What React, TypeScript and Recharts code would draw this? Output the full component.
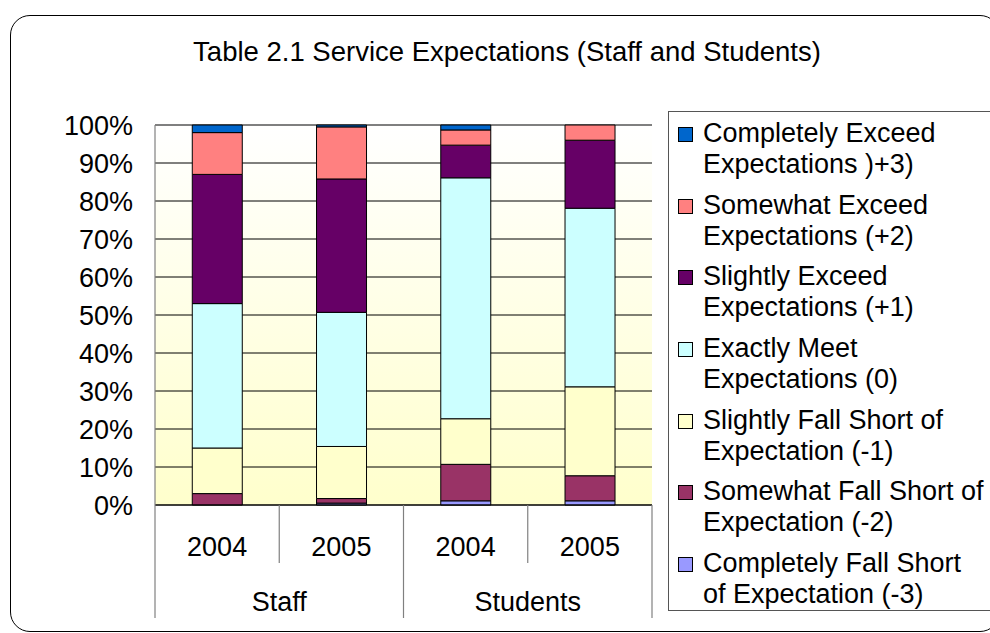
import React from 'react';
import { BarChart, Bar, XAxis, YAxis, CartesianGrid } from 'recharts';

const TITLE = 'Table 2.1 Service Expectations (Staff and Students)';
const categories = ['2004', '2005', '2004', '2005'];
const groupOfCategory = ['Staff', 'Staff', 'Students', 'Students'];
const yTicks = [0, 10, 20, 30, 40, 50, 60, 70, 80, 90, 100];

// bottom to top of each stack
const completelyFallShort = [0, 0.5, 1.1, 1.1];
const somewhatFallShort = [3, 1.2, 9.6, 6.6];
const slightlyFallShort = [12, 13.7, 12, 23.4];
const exactlyMeet = [38, 35.3, 63.4, 47];
const slightlyExceed = [34, 35.1, 8.6, 17.9];
const somewhatExceed = [11, 13.7, 4, 4];
const completelyExceed = [2, 0.5, 1.3, 0];

const series = [
  { key: 'cfs', values: completelyFallShort, color: '#9999FF', label: ['Completely Fall Short', 'of Expectation (-3)'] },
  { key: 'sfs', values: somewhatFallShort, color: '#993366', label: ['Somewhat Fall Short of', 'Expectation (-2)'] },
  { key: 'slfs', values: slightlyFallShort, color: '#FFFFCC', label: ['Slightly Fall Short of', 'Expectation (-1)'] },
  { key: 'em', values: exactlyMeet, color: '#CCFFFF', label: ['Exactly Meet', 'Expectations (0)'] },
  { key: 'sle', values: slightlyExceed, color: '#660066', label: ['Slightly Exceed', 'Expectations (+1)'] },
  { key: 'swe', values: somewhatExceed, color: '#FF8080', label: ['Somewhat Exceed', 'Expectations (+2)'] },
  { key: 'ce', values: completelyExceed, color: '#0066CC', label: ['Completely Exceed', 'Expectations )+3)'] },
];

const data = categories.map((c, i) => {
  const row: Record<string, any> = { name: c, group: groupOfCategory[i] };
  series.forEach((s) => { row[s.key] = s.values[i]; });
  return row;
});

const FONT = '"Liberation Sans", Arial, sans-serif';
const W = 990;
const H = 633;
const MARGIN = { top: 125, right: 338, bottom: 15, left: 0 };
const Y_AXIS_W = 155;
const PLOT_W = W - MARGIN.right - MARGIN.left - Y_AXIS_W;
const HALF_BAND = PLOT_W / categories.length / 2;

function CategoryTick(props: any) {
  const { x, y, payload, index } = props;
  const isGroupStart = index === 0 || groupOfCategory[index] !== groupOfCategory[index - 1];
  const isLast = index === categories.length - 1;
  const isGroupEnd = isLast || groupOfCategory[index] !== groupOfCategory[index + 1];
  return (
    <g>
      <line x1={x - HALF_BAND} x2={x - HALF_BAND} y1={y} y2={y + (isGroupStart ? 113 : 58)} stroke="#808080" strokeWidth={1.2} />
      {isLast && (
        <line x1={x + HALF_BAND} x2={x + HALF_BAND} y1={y} y2={y + 113} stroke="#808080" strokeWidth={1.2} />
      )}
      <text x={x} y={y + 41} dy="0.355em" textAnchor="middle" fontSize={27} fontFamily={FONT} fill="#000">
        {payload.value}
      </text>
      {isGroupEnd && !isGroupStart && (
        <text x={x - HALF_BAND} y={y + 96} dy="0.355em" textAnchor="middle" fontSize={27} fontFamily={FONT} fill="#000">
          {groupOfCategory[index]}
        </text>
      )}
    </g>
  );
}

function LegendBox() {
  const items = [...series].reverse();
  return (
    <div
      style={{
        position: 'absolute',
        left: 668,
        top: 111,
        width: 340,
        height: 500,
        border: '1px solid #555',
        boxSizing: 'border-box',
        background: '#fff',
        fontFamily: FONT,
        fontSize: 27,
        color: '#000',
        paddingTop: 6,
      }}
    >
      {items.map((s) => (
        <div key={s.key} style={{ position: 'relative', height: 71.7 }}>
          <div
            style={{
              position: 'absolute',
              left: 9,
              top: 9,
              width: 13,
              height: 13,
              background: s.color,
              border: '1px solid #000',
            }}
          />
          <div style={{ position: 'absolute', left: 34, top: 0, lineHeight: '31px', whiteSpace: 'nowrap' }}>
            {s.label[0]}
            <br />
            {s.label[1]}
          </div>
        </div>
      ))}
    </div>
  );
}

export default function App() {
  return (
    <div style={{ position: 'absolute', left: 0, top: 0, width: W, height: H, overflow: 'hidden', background: '#fff' }}>
      <div
        style={{
          position: 'absolute',
          left: 10,
          top: 15,
          width: 990,
          height: 617,
          border: '1.5px solid #000',
          borderRadius: 20,
          boxSizing: 'border-box',
        }}
      />
      <div
        style={{
          position: 'absolute',
          left: 0,
          top: 34,
          width: 1014,
          textAlign: 'center',
          fontFamily: FONT,
          fontSize: 27.5,
          lineHeight: '36px',
          color: '#000',
          whiteSpace: 'nowrap',
        }}
      >
        {TITLE}
      </div>
      <div style={{ position: 'absolute', left: 0, top: 0 }}>
        <BarChart width={W} height={H} data={data} margin={MARGIN} barCategoryGap="30%">
          <defs>
            <linearGradient id="plotBg" x1="0" y1="0" x2="0" y2="1">
              <stop offset="0%" stopColor="#FFFFFF" />
              <stop offset="100%" stopColor="#FFFFCC" />
            </linearGradient>
          </defs>
          <CartesianGrid vertical={false} stroke="#000" strokeWidth={1} fill="url(#plotBg)" yAxisId="left" />
          <XAxis
            dataKey="name"
            interval={0}
            height={113}
            tickSize={0}
            tickMargin={0}
            tickLine={false}
            axisLine={{ stroke: '#000', strokeWidth: 1.2 }}
            tick={<CategoryTick />}
          />
          <YAxis
            yAxisId="left"
            width={Y_AXIS_W}
            domain={[0, 100]}
            ticks={yTicks}
            interval={0}
            tickFormatter={(v: number) => `${v}%`}
            tickSize={6}
            tickMargin={16}
            tickLine={false}
            axisLine={{ stroke: '#808080', strokeWidth: 1.2 }}
            tick={{ fontSize: 27, fill: '#000', fontFamily: FONT }}
          />
          <YAxis
            yAxisId="right"
            orientation="right"
            width={0}
            domain={[0, 100]}
            tick={false}
            tickLine={false}
            axisLine={{ stroke: '#808080', strokeWidth: 1.2 }}
          />
          {series.map((s) => (
            <Bar
              key={s.key}
              yAxisId="left"
              dataKey={s.key}
              stackId="a"
              fill={s.color}
              stroke="#000"
              strokeWidth={1}
              isAnimationActive={false}
            />
          ))}
        </BarChart>
      </div>
      <LegendBox />
    </div>
  );
}
